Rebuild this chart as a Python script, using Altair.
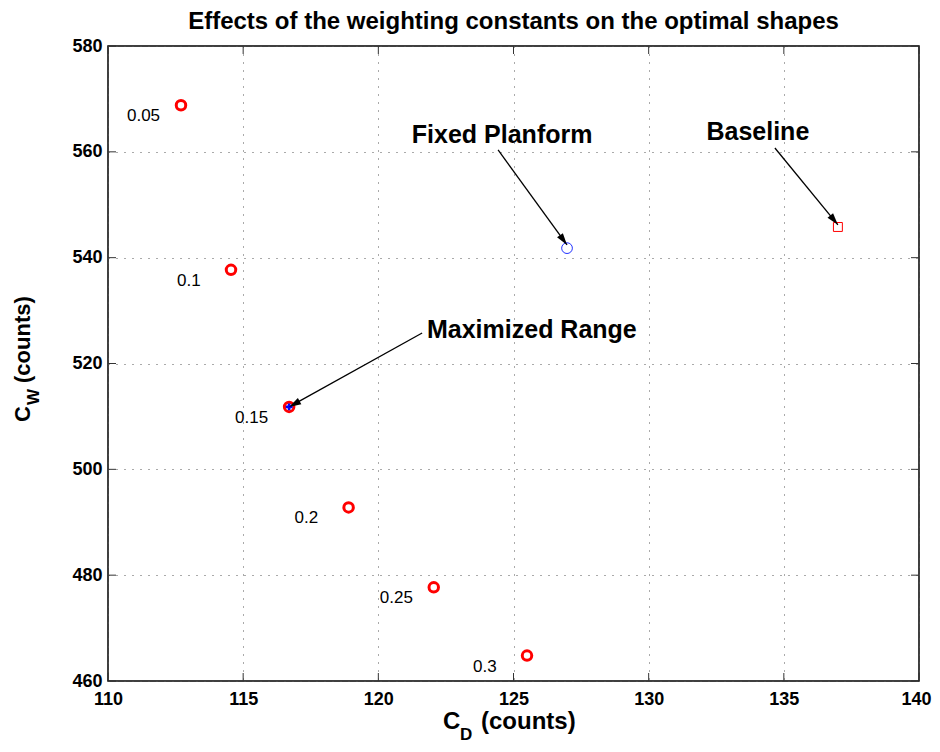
import math
import altair as alt
import pandas as pd

# ---------------- data ----------------
weights = ["0.05", "0.1", "0.15", "0.2", "0.25", "0.3"]
cd_vals = [112.7, 114.55, 116.7, 118.9, 122.05, 125.5]
cw_vals = [568.8, 537.7, 511.8, 492.8, 477.7, 464.8]

fixed_cd, fixed_cw = [126.98], [541.8]
base_cd, base_cw = [137.0], [545.8]
maxr_cd, maxr_cw = [116.7], [511.8]

ann_text = ["Fixed Planform", "Baseline", "Maximized Range"]
ann_x = [124.58, 134.04, 125.68]
ann_y = [561.7, 562.2, 524.8]
arrow_x0 = [124.43, 134.67, 121.62]
arrow_y0 = [560.35, 560.72, 525.76]
arrow_x1 = [126.98, 137.0, 116.70]
arrow_y1 = [542.4, 546.2, 511.8]

x_ticks = [110, 115, 120, 125, 130, 135, 140]
y_ticks = [460, 480, 500, 520, 540, 560, 580]

title_text = "Effects of the weighting constants on the optimal shapes"

# ---------------- layout ----------------
W, H = 811, 635
X_DOM = [110, 140]
Y_DOM = [460, 580]
FONT = "Liberation Sans"

xs = alt.Scale(domain=X_DOM, nice=False, zero=False)
ys = alt.Scale(domain=Y_DOM, nice=False, zero=False)
common_axis = dict(title=None, grid=True, gridDash=[1, 7], gridColor="#555555",
                   gridWidth=1, ticks=False, domain=False, labelFont=FONT,
                   labelFontSize=18, labelFontWeight="bold", labelColor="black",
                   labelFlush=False, labelOverlap=False, format="d")
x_axis = alt.Axis(values=x_ticks, labelPadding=9,
                  labelOffset={"condition": {"test": f"datum.value == {X_DOM[1]}", "value": -3},
                               "value": 0},
                  **common_axis)
y_axis = alt.Axis(values=y_ticks, labelPadding=6, **common_axis)


def X(f):
    return alt.X(f"{f}:Q", scale=xs, axis=x_axis)


def Y(f):
    return alt.Y(f"{f}:Q", scale=ys, axis=y_axis)


pts = pd.DataFrame({"cd": cd_vals, "cw": cw_vals, "w": weights})

# arrow angles (screen space)
angles = []
for a, b, c, d in zip(arrow_x0, arrow_y0, arrow_x1, arrow_y1):
    dx = (c - a) * W / (X_DOM[1] - X_DOM[0])
    dy = -(d - b) * H / (Y_DOM[1] - Y_DOM[0])
    angles.append(math.degrees(math.atan2(dx, -dy)) % 360)

arrows = pd.DataFrame({"x0": arrow_x0, "y0": arrow_y0, "x1": arrow_x1,
                       "y1": arrow_y1, "ang": angles})
anns = pd.DataFrame({"t": ann_text, "x": ann_x, "y": ann_y})

xt = pd.DataFrame({"v": x_ticks})
yt = pd.DataFrame({"v": y_ticks})
TICK_COL = "#333333"

ticks_bottom = alt.Chart(xt).mark_rule(color=TICK_COL, strokeWidth=1).encode(
    x=X("v"), y=alt.value(H), y2=alt.value(H - 8))
ticks_top = alt.Chart(xt).mark_rule(color=TICK_COL, strokeWidth=1).encode(
    x=X("v"), y=alt.value(0), y2=alt.value(8))
ticks_left = alt.Chart(yt).mark_rule(color=TICK_COL, strokeWidth=1).encode(
    y=Y("v"), x=alt.value(0), x2=alt.value(8))
ticks_right = alt.Chart(yt).mark_rule(color=TICK_COL, strokeWidth=1).encode(
    y=Y("v"), x=alt.value(W - 8), x2=alt.value(W))

red_pts = alt.Chart(pts).mark_point(shape="circle", filled=False, color="#ff0000",
                                    strokeWidth=3, size=90, opacity=1).encode(
    x=X("cd"), y=Y("cw"))

pt_labels = alt.Chart(pts).mark_text(align="left", baseline="middle", dx=-54, dy=11,
                                     font=FONT, fontSize=17, color="black").encode(
    x=X("cd"), y=Y("cw"), text="w:N")

maxr = alt.Chart(pd.DataFrame({"cd": maxr_cd, "cw": maxr_cw})).mark_point(
    shape="cross", filled=True, color="#0000ff", size=45, opacity=1).encode(
    x=X("cd"), y=Y("cw"))

fixed = alt.Chart(pd.DataFrame({"cd": fixed_cd, "cw": fixed_cw})).mark_point(
    shape="circle", filled=False, color="#2233ff", strokeWidth=1, size=115, opacity=1).encode(
    x=X("cd"), y=Y("cw"))

base = alt.Chart(pd.DataFrame({"cd": base_cd, "cw": base_cw})).mark_point(
    shape="square", filled=False, color="#ff0000", strokeWidth=1, size=80, opacity=1).encode(
    x=X("cd"), y=Y("cw"))

arrow_lines = alt.Chart(arrows).mark_rule(color="black", strokeWidth=1.3).encode(
    x=X("x0"), y=Y("y0"), x2="x1:Q", y2="y1:Q")

arrow_heads = alt.Chart(arrows).mark_point(
    shape="M0,0L-0.6,2L0.6,2Z", filled=True, color="black", size=144, opacity=1).encode(
    x=X("x1"), y=Y("y1"), angle=alt.Angle("ang:Q", scale=None))

ann_marks = alt.Chart(anns).mark_text(align="center", baseline="alphabetic", font=FONT,
                                      fontSize=25, fontWeight="bold", color="black").encode(
    x=X("x"), y=Y("y"), text="t:N")


def free_text(txt, x, y, size, angle=0, align="left", baseline="alphabetic"):
    return alt.Chart(pd.DataFrame({"t": [txt]})).mark_text(
        align=align, baseline=baseline, angle=angle, font=FONT, fontSize=size,
        fontWeight="bold", color="black").encode(
        x=alt.value(x), y=alt.value(y), text="t:N")


title = free_text(title_text, W / 2, -17, 24, align="center")
xt_c = free_text("C", 335, 683, 24)
xt_d = free_text("D", 352, 694, 17)
xt_rest = free_text("(counts)", 373, 683, 24)
yt_c = free_text("C", -78, 376, 22, angle=270)
yt_w = free_text("W", -69, 359, 17, angle=270)
yt_rest = free_text("(counts)", -78, 337, 22, angle=270)

chart = alt.layer(
    ticks_bottom, ticks_top, ticks_left, ticks_right,
    arrow_lines, red_pts, maxr, fixed, base, arrow_heads,
    pt_labels, ann_marks,
    title, xt_c, xt_d, xt_rest, yt_c, yt_w, yt_rest,
).properties(
    width=W, height=H,
    autosize=alt.AutoSizeParams(type="none"),
    padding={"left": 100, "top": 38, "right": 13, "bottom": 63},
    background="white",
).configure_view(stroke="black", strokeWidth=1.5)

chart.save("out.html", embed_options={"renderer": "svg", "actions": False})
